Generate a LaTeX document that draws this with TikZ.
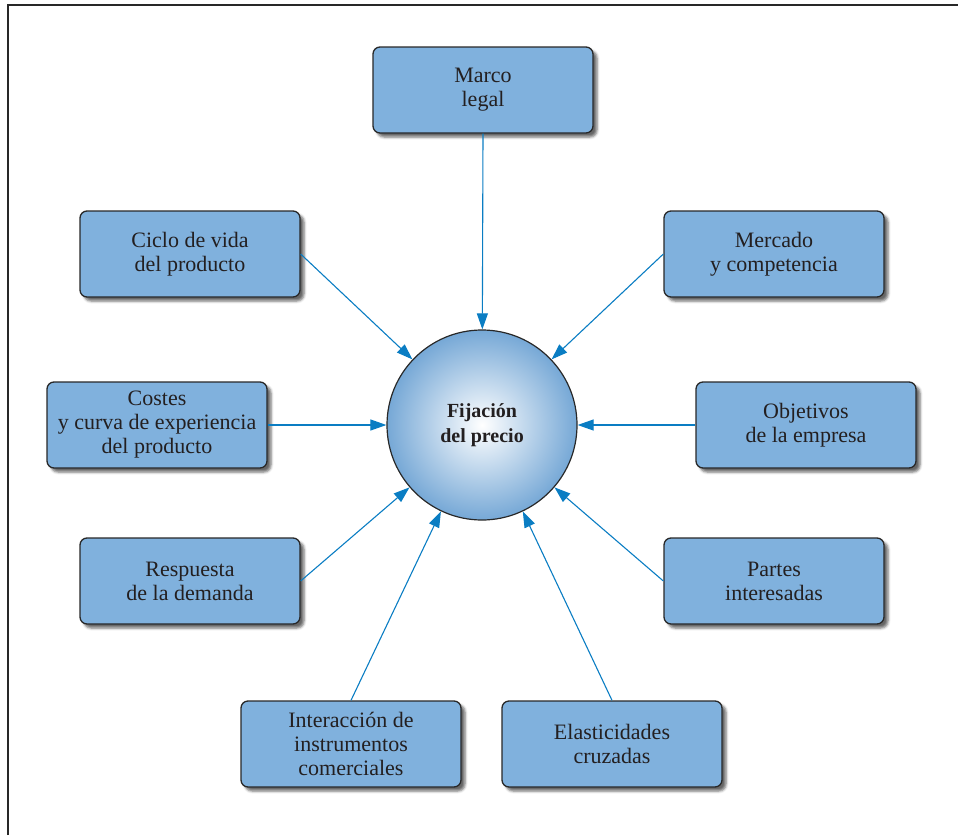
\documentclass[tikz,border=0pt]{standalone}
\usepackage{fontspec}
\setmainfont{Liberation Serif}
\usetikzlibrary{arrows.meta,shadows.blur}
\definecolor{boxfill}{RGB}{128,177,221}
\definecolor{boxline}{RGB}{40,40,40}
\definecolor{arrowblue}{RGB}{10,125,195}
\definecolor{txt}{RGB}{35,31,32}
\definecolor{rimblue}{RGB}{118,168,214}
\begin{document}
\begin{tikzpicture}[x=1pt,y=-1pt,
  factor/.style={draw=boxline, line width=1.3pt, fill=boxfill, rounded corners=7pt,
    minimum width=220pt, minimum height=86pt, align=center, inner sep=0pt,
    font=\fontsize{22}{24}\selectfont, text=txt,
    blur shadow={shadow xshift=4pt, shadow yshift=-4pt, shadow opacity=60, shadow blur radius=2.5pt}},
  hub/.style={circle, draw=boxline, line width=1.2pt, minimum size=190pt, inner sep=0pt,
    shading=radial, inner color=white, outer color=rimblue, align=center,
    font=\fontsize{20}{25}\selectfont\bfseries, text=txt},
  link/.style={draw=arrowblue, line width=1.1pt, -{Triangle[length=16pt,width=11pt]}}]
  \useasboundingbox (0,0) rectangle (958,835);
  % outer frame (top and left edges)
  \draw[draw=boxline, line width=2.6pt] (8,835) -- (8,5) -- (958,5);

  \node[hub] (c) at (482,425) {Fijación\\del precio};

  \node[factor] (marco) at (483,90) {Marco\\legal};
  \node[factor] (ciclo) at (190,254) {Ciclo de vida\\del producto};
  \node[factor] (merc) at (774,254) {Mercado\\y competencia};
  \node[factor] (cost) at (157,425) {Costes\\y curva de experiencia\\del producto};
  \node[factor] (obj) at (806,425) {Objetivos\\de la empresa};
  \node[factor] (resp) at (190,581) {Respuesta\\de la demanda};
  \node[factor] (part) at (774,581) {Partes\\interesadas};
  \node[factor] (inter) at (351,744) {Interacción de\\instrumentos\\comerciales};
  \node[factor] (elas) at (612,744) {Elasticidades\\cruzadas};

  \draw[link] (marco.south) -- (c);
  \draw[link] (ciclo.east) -- (c);
  \draw[link] (merc.west) -- (c);
  \draw[link] (cost.east) -- (c);
  \draw[link] (obj.west) -- (c);
  \draw[link] (resp.east) -- (c);
  \draw[link] (part.west) -- (c);
  \draw[link] (inter.north) -- (c);
  \draw[link] (elas.north) -- (c);
\end{tikzpicture}
\end{document}
